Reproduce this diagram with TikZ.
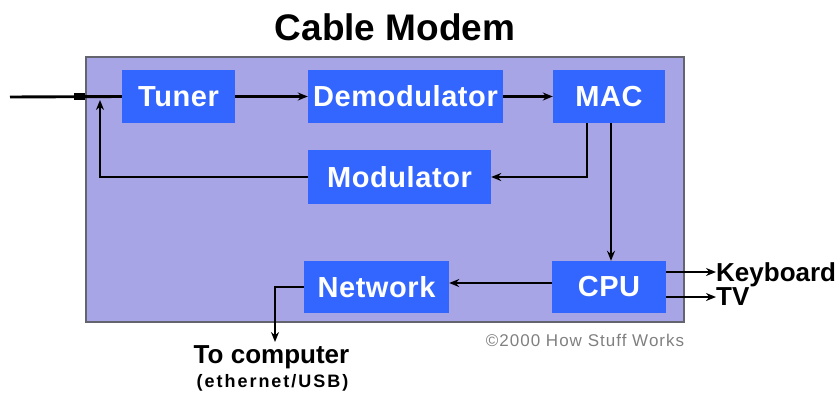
\documentclass[tikz,border=0pt]{standalone}
\usepackage{fontspec}
\setmainfont{Liberation Sans}
\usepackage{tikz}
\usetikzlibrary{calc, arrows.meta, positioning}

\begin{document}
\begin{tikzpicture}[x=1pt, y=-1pt,
        block/.style={fill=blockblue, text=white, inner sep=0pt, minimum height=53pt,
            font=\fontsize{29}{29}\selectfont\bfseries\addfontfeatures{LetterSpace=2}},
        outlabel/.style={inner sep=0pt, text depth=0pt, font=\fontsize{26}{26}\selectfont\bfseries},
        wire/.style={draw=black, line width=2.9pt},
        arr/.style={wire, -{Stealth[length=10pt, width=8pt]}}]
        \definecolor{boxlavender}{RGB}{168, 165, 230}
        \definecolor{blockblue}{RGB}{51, 102, 255}
        \definecolor{framegray}{RGB}{100, 100, 110}
        \useasboundingbox (0,0) rectangle (840,394);

        % title and outer box
        \node[font=\fontsize{37}{37}\selectfont\bfseries] (title) at (395,27){Cable Modem};
        \node[fill=boxlavender, draw=framegray, line width=1.5pt, minimum width=598pt, minimum height=265pt] (modem) at (385,189.5){};

        % blocks
        \node[block, minimum width=113pt] (tuner) at (178.5,96.5){Tuner};
        \node[block, minimum width=195pt] (demod) at (405.5,96.5){Demodulator};
        \node[block, minimum width=112pt] (mac) at (609,96.5){MAC};
        \node[block, minimum width=183pt, minimum height=54pt] (mod) at (399.5,177){Modulator};
        \node[block, minimum width=145pt, minimum height=52pt] (network) at (376.5,287){Network};
        \node[block, minimum width=114pt, minimum height=52pt] (cpu) at (609,287){CPU};

        % outside labels
        \node[outlabel, anchor=west] (keyboard) at (716,272){Keyboard};
        \node[outlabel, anchor=west] (tv) at (716,297){TV};
        \node[inner sep=0pt, font=\fontsize{26}{26}\selectfont\bfseries] (tocomp) at (271.5,357){To computer};
        \node[inner sep=0pt, font=\fontsize{18}{18}\selectfont\bfseries\addfontfeatures{LetterSpace=11}] (ether) at (272.5,383){(ethernet/USB)};
        \node[inner sep=0pt, text=gray, font=\fontsize{17}{17}\selectfont\addfontfeatures{LetterSpace=6}] (copy) at (585,340){\textcopyright2000 How Stuff Works};

        % connectors
        \coordinate (cable) at (10,97);
        \coordinate (tap) at (100,100);
        \coordinate (out) at (275,342);
        \draw[wire] (cable) -- (tuner.west);
        \fill[black] ($(modem.west |- tuner.west)+(-11,-3.5)$) rectangle ++(11,7);
        \draw[arr] (tuner) -- (demod);
        \draw[arr] (demod) -- (mac);
        \draw[arr] ($(mac.south)+(-22,0)$) |- (mod.east);
        \draw[arr] (mod.west) -| (tap);
        \draw[arr] ($(mac.south)+(2,0)$) -- ($(cpu.north)+(2,0)$);
        \draw[arr] ($(cpu.west)+(0,-4)$) -- ($(network.east)+(0,-4)$);
        \draw[arr] (network.west) -| (out);
        \draw[arr] (cpu.east |- keyboard.west) -- (keyboard.west);
        \draw[arr] (cpu.east |- tv.west) -- (tv.west);
    \end{tikzpicture}
\end{document}
